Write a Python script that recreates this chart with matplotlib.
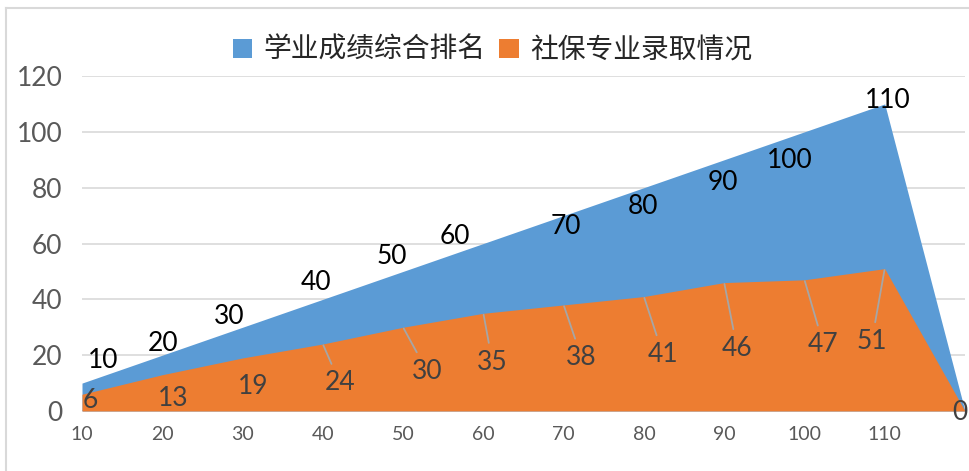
import matplotlib
matplotlib.use("Agg")
import matplotlib.pyplot as plt
from matplotlib.patches import Patch
from matplotlib.lines import Line2D

# ---- data ----
categories = ["10", "20", "30", "40", "50", "60", "70", "80", "90", "100", "110", ""]
rank_values = [10, 20, 30, 40, 50, 60, 70, 80, 90, 100, 110, 0]
admit_values = [6, 13, 19, 24, 30, 35, 38, 41, 46, 47, 51, 0]
series_names = ["学业成绩综合排名", "社保专业录取情况"]
y_ticks = [0, 20, 40, 60, 80, 100, 120]

# ---- styles (label offsets in pixels) ----
blue = "#5B9BD5"
orange = "#ED7D31"
rank_label_off = [(21, 23), (1, 12), (-13, 11), (-7, 17), (-11, 15), (-28, 7),
                  (2, -11), (-1, -19), (-1, -23), (-15, -29), (3, 3), None]
admit_label_off = [(8, -6), (11, -24), (11, -29), (17, -39), (24, -44), (9, -49),
                   (18, -53), (19, -58), (13, -66), (19, -65), (-13, -73), (-5, -1)]
admit_leader = [False, False, False, True, True, True, True, True, True, True, True, False]

num_font = "Lato"
cjk_font = ["Noto Sans CJK SC", "DejaVu Sans"]

W, H = 969, 471
fig = plt.figure(figsize=(W / 100, H / 100), dpi=100)
ax = fig.add_axes([82 / W, 60 / H, 883 / W, 335 / H])

x = list(range(len(categories)))
ax.fill_between(x, 0, rank_values, color=blue, linewidth=0, zorder=2)
ax.fill_between(x, 0, admit_values, color=orange, linewidth=0, zorder=3)

ax.set_xlim(0, len(categories) - 1)
ax.set_ylim(0, 120)
ax.set_yticks(y_ticks)
ax.set_yticklabels([str(v) for v in y_ticks], fontsize=19, color="#595959", fontname=num_font)
ax.set_xticks(x)
ax.set_xticklabels(categories, fontsize=14, color="#595959", fontname=num_font)
ax.tick_params(axis="both", length=0)
ax.tick_params(axis="y", pad=14)
ax.tick_params(axis="x", pad=11)
ax.grid(axis="y", color="#d9d9d9", linewidth=1.2, zorder=0)
ax.set_axisbelow(True)
for s in ax.spines.values():
    s.set_visible(False)
ax.axhline(0, color="#d9d9d9", linewidth=1.2, zorder=1)

# data labels
for i, v in enumerate(rank_values):
    off = rank_label_off[i]
    if off is None:
        continue
    ax.annotate(str(v), (i, v), xytext=off, textcoords="offset pixels",
                ha="center", va="center", fontsize=19, color="black",
                fontname=num_font, zorder=6, annotation_clip=False)

for i, v in enumerate(admit_values):
    off = admit_label_off[i]
    kw = {}
    if admit_leader[i]:
        kw["arrowprops"] = dict(arrowstyle="-", color="#a6a6a6", lw=1.3,
                                shrinkA=3, shrinkB=1)
    ax.annotate(str(v), (i, v), xytext=off, textcoords="offset pixels",
                ha="center", va="center", fontsize=19, color="#404040",
                fontname=num_font, zorder=6, annotation_clip=False, **kw)

# legend
handles = [Patch(facecolor=blue, edgecolor="none"), Patch(facecolor=orange, edgecolor="none")]
leg = fig.legend(handles, series_names, loc="center", bbox_to_anchor=(0.508, 1 - 50 / H),
                 ncol=2, frameon=False, handlelength=0.7, handleheight=0.7,
                 handletextpad=0.4, columnspacing=0.5,
                 prop={"family": cjk_font, "size": 20})
for t in leg.get_texts():
    t.set_color("#262626")

# chart border
fig.add_artist(Line2D([6 / W, 6 / W], [0, 1 - 8 / H], color="#d9d9d9", lw=1.5,
                      transform=fig.transFigure))
fig.add_artist(Line2D([6 / W, 1], [1 - 8 / H, 1 - 8 / H], color="#d9d9d9", lw=1.5,
                      transform=fig.transFigure))

fig.savefig("out.png", dpi=100, facecolor="white")
